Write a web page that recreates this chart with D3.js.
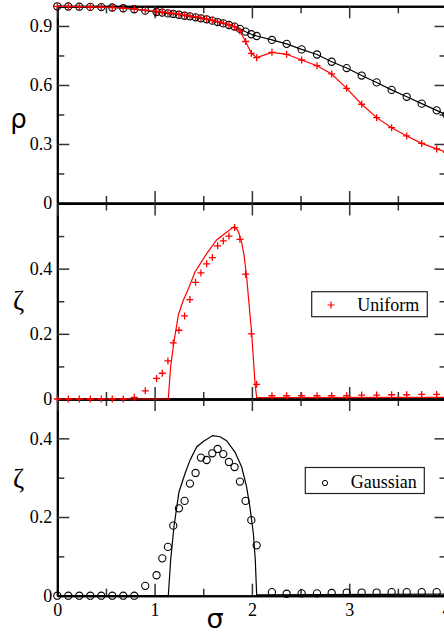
<!DOCTYPE html>
<html>
<head>
<meta charset="utf-8">
<script src="https://cdn.jsdelivr.net/npm/d3@7"></script>
<style>
  html, body { margin: 0; padding: 0; background: #fff; }
  svg { display: block; }
  .tick text { font-family: "Liberation Serif", serif; font-size: 18px; fill: #000; }
</style>
</head>
<body>
<svg id="chart" width="444" height="633"></svg>
<script>
// ---------------- data ----------------
const sigma = [0, 0.113, 0.226, 0.339, 0.452, 0.565, 0.678, 0.791, 0.904,
  1.020, 1.079, 1.137, 1.192, 1.250, 1.308, 1.363, 1.421, 1.476, 1.535, 1.593,
  1.648, 1.706, 1.764, 1.822, 1.877, 1.935, 1.994, 2.049,
  2.206, 2.357, 2.511, 2.669, 2.820, 2.974, 3.128, 3.282, 3.436, 3.591, 3.745, 3.899, 4.0];

const rhoGaussian = [1.000, 0.999, 0.998, 0.997, 0.996, 0.994, 0.990, 0.985, 0.978,
  0.971, 0.968, 0.964, 0.961, 0.957, 0.952, 0.949, 0.944, 0.939, 0.934, 0.927,
  0.920, 0.913, 0.905, 0.897, 0.885, 0.871, 0.858, 0.849,
  0.829, 0.809, 0.781, 0.755, 0.718, 0.686, 0.648, 0.613, 0.575, 0.540, 0.505, 0.471, 0.448];

const rhoUniform = [1.000, 0.999, 0.998, 0.997, 0.996, 0.994, 0.991, 0.987, 0.980,
  0.974, 0.971, 0.968, 0.964, 0.960, 0.955, 0.951, 0.946, 0.941, 0.936, 0.929,
  0.922, 0.914, 0.906, 0.896, 0.875, 0.821, 0.761, 0.739,
  0.766, 0.756, 0.727, 0.698, 0.656, 0.583, 0.502, 0.434, 0.383, 0.341, 0.303, 0.275, 0.258];

const zetaUniform = [0, 0, 0, 0, 0, 0, 0, 0.005, 0.025,
  0.063, 0.079, 0.117, 0.172, 0.211, 0.255, 0.305, 0.358, 0.387, 0.415, 0.434,
  0.470, 0.485, 0.500, 0.526, 0.490, 0.383, 0.200, 0.045,
  0.010, 0.010, 0.010, 0.010, 0.010, 0.010, 0.012, 0.012, 0.013, 0.013, 0.014, 0.014];

const zetaGaussian = [0, 0, 0, 0, 0, 0, 0, 0, 0.025,
  0.052, 0.095, 0.124, 0.178, 0.222, 0.241, 0.285, 0.312, 0.351, 0.345, 0.362,
  0.373, 0.360, 0.340, 0.327, 0.290, 0.241, 0.192, 0.128,
  0.009, 0.005, 0.006, 0.006, 0.007, 0.008, 0.008, 0.008, 0.009, 0.009, 0.009, 0.009];

// theory curves (sigma, zeta)
const uniformCurveSigma = [0, 1.141, 1.165, 1.199, 1.244, 1.295, 1.350, 1.415, 1.480, 1.535,
  1.638, 1.740, 1.820, 1.861, 1.895, 1.920, 1.946, 1.998, 2.032, 2.049, 4.0];
const uniformCurveZeta = [0, 0, 0.100, 0.175, 0.258, 0.303, 0.340, 0.390, 0.420, 0.446,
  0.488, 0.512, 0.530, 0.514, 0.480, 0.440, 0.374, 0.201, 0.048, 0.004, 0.005];

const gaussCurveSigma = [0, 1.141, 1.165, 1.199, 1.250, 1.312, 1.363, 1.432, 1.500, 1.597,
  1.672, 1.740, 1.826, 1.895, 1.946, 1.980, 2.015, 2.035, 2.049, 4.0];
const gaussCurveZeta = [0, 0, 0.090, 0.176, 0.263, 0.310, 0.344, 0.378, 0.392, 0.407,
  0.404, 0.394, 0.365, 0.327, 0.276, 0.225, 0.158, 0.090, 0.002, 0.004];

const xTicks = [0, 1, 2, 3, 4];
const xMinor = [0.5, 1.5, 2.5, 3.5];
const rhoTicks = [0, 0.3, 0.6, 0.9];
const rhoMinor = [0.15, 0.45, 0.75];
const zeta2Ticks = [0, 0.2, 0.4];
const zeta2Minor = [0.1, 0.3, 0.5];
const zeta3Ticks = [0, 0.2, 0.4];
const zeta3Minor = [0.1, 0.3];

// ---------------- layout ----------------
const svg = d3.select("#chart");
svg.append("rect").attr("width", 444).attr("height", 633).attr("fill", "#fff");

const xL = 57.3, xR = 446.5;
const x = d3.scaleLinear().domain([0, 4]).range([xL, xR]);

const panels = [
  { y: d3.scaleLinear().domain([0, 1]).range([203, 6.3]), major: rhoTicks, minor: rhoMinor,
    fmt: d => d === 0 ? "0" : d3.format(".1f")(d), label: "ρ", labelFont: "DejaVu Sans", labelY: 128, xLabels: false },
  { y: d3.scaleLinear().domain([0, 0.6]).range([399, 203.5]), major: zeta2Ticks, minor: zeta2Minor,
    fmt: d => d === 0 ? "0" : d3.format(".1f")(d), label: "ζ", labelFont: "Liberation Serif", labelY: 310, xLabels: false },
  { y: d3.scaleLinear().domain([0, 0.5]).range([595.7, 399]), major: zeta3Ticks, minor: zeta3Minor,
    fmt: d => d === 0 ? "0" : d3.format(".1f")(d), label: "ζ", labelFont: "Liberation Serif", labelY: 488, xLabels: true }
];

const MAJ = 12, MIN = 7;
function styleAxis(g) {
  g.select(".domain").attr("stroke", "#000").attr("stroke-width", 2);
  g.selectAll(".tick line").attr("stroke", "#333").attr("stroke-width", 1.5);
}

panels.forEach(p => {
  const yTop = p.y.range()[1], yBot = p.y.range()[0];
  // left
  svg.append("g").attr("transform", `translate(${xL},0)`)
    .call(d3.axisLeft(p.y).tickValues(p.minor).tickSizeInner(-MIN).tickSizeOuter(0).tickFormat(""))
    .call(styleAxis);
  svg.append("g").attr("transform", `translate(${xL},0)`)
    .call(d3.axisLeft(p.y).tickValues(p.major).tickSizeInner(-MAJ).tickSizeOuter(0).tickPadding(5).tickFormat(p.fmt))
    .call(styleAxis);
  // right
  svg.append("g").attr("transform", `translate(${xR},0)`)
    .call(d3.axisRight(p.y).tickValues(p.minor).tickSizeInner(-MIN).tickSizeOuter(0).tickFormat(""))
    .call(styleAxis);
  svg.append("g").attr("transform", `translate(${xR},0)`)
    .call(d3.axisRight(p.y).tickValues(p.major).tickSizeInner(-MAJ).tickSizeOuter(0).tickFormat(""))
    .call(styleAxis);
  // top
  svg.append("g").attr("transform", `translate(0,${yTop})`)
    .call(d3.axisTop(x).tickValues(xMinor).tickSizeInner(-MIN).tickSizeOuter(0).tickFormat(""))
    .call(styleAxis);
  svg.append("g").attr("transform", `translate(0,${yTop})`)
    .call(d3.axisTop(x).tickValues(xTicks).tickSizeInner(-MAJ).tickSizeOuter(0).tickFormat(""))
    .call(styleAxis);
  // bottom
  svg.append("g").attr("transform", `translate(0,${yBot})`)
    .call(d3.axisBottom(x).tickValues(xMinor).tickSizeInner(-MIN).tickSizeOuter(0).tickFormat(""))
    .call(styleAxis);
  const bx = svg.append("g").attr("transform", `translate(0,${yBot})`)
    .call(d3.axisBottom(x).tickValues(xTicks).tickSizeInner(-MAJ).tickSizeOuter(0).tickPadding(8)
      .tickFormat(p.xLabels ? d3.format("d") : ""))
    .call(styleAxis);
  bx.selectAll(".tick line").filter(d => d === 0 || d === 4).attr("stroke", "none");

  // y label
  svg.append("text").attr("x", 18.5).attr("y", p.labelY)
    .attr("text-anchor", "middle")
    .attr("font-family", p.labelFont).attr("font-size", p.label === "ρ" ? 26 : 27)
    .text(p.label);
});

svg.selectAll(".tick text").attr("font-family", "Liberation Serif").attr("font-size", 18);

// x label
svg.append("text").attr("x", 215).attr("y", 628).attr("text-anchor", "middle")
  .attr("font-family", "DejaVu Sans").attr("font-size", 27).text("σ");

// ---------------- data marks ----------------
const plus = "M-3.5,0H3.5M0,-3.5V3.5";
const line = (ys) => d3.line().x(d => x(d[0])).y(d => ys(d[1]));

// Panel 1
const p1 = panels[0].y;
const gData = sigma.map((s, i) => [s, rhoGaussian[i]]);
const uData = sigma.map((s, i) => [s, rhoUniform[i]]);
svg.append("path").datum(gData).attr("d", line(p1)).attr("fill", "none").attr("stroke", "#000").attr("stroke-width", 1.2);
svg.append("g").selectAll("circle").data(gData).join("circle")
  .attr("cx", d => x(d[0])).attr("cy", d => p1(d[1])).attr("r", 3.6)
  .attr("fill", "none").attr("stroke", "#000").attr("stroke-width", 1.1);
svg.append("path").datum(uData).attr("d", line(p1)).attr("fill", "none").attr("stroke", "#f00").attr("stroke-width", 1.2);
svg.append("g").selectAll("path").data(uData).join("path")
  .attr("transform", d => `translate(${x(d[0])},${p1(d[1])})`).attr("d", plus)
  .attr("stroke", "#f00").attr("stroke-width", 1.3);

// Panel 2
const p2 = panels[1].y;
const uCurve = uniformCurveSigma.map((s, i) => [s, uniformCurveZeta[i]]);
svg.append("path").datum(uCurve).attr("d", line(p2)).attr("fill", "none").attr("stroke", "#f00").attr("stroke-width", 1.2);
svg.append("g").selectAll("path").data(zetaUniform.map((v, i) => [sigma[i], v])).join("path")
  .attr("transform", d => `translate(${x(d[0])},${p2(d[1])})`).attr("d", plus)
  .attr("stroke", "#f00").attr("stroke-width", 1.3);

// Panel 3
const p3 = panels[2].y;
const gCurve = gaussCurveSigma.map((s, i) => [s, gaussCurveZeta[i]]);
svg.append("path").datum(gCurve).attr("d", line(p3)).attr("fill", "none").attr("stroke", "#000").attr("stroke-width", 1.2);
svg.append("g").selectAll("circle").data(zetaGaussian.map((v, i) => [sigma[i], v])).join("circle")
  .attr("cx", d => x(d[0])).attr("cy", d => p3(d[1])).attr("r", 3.6)
  .attr("fill", "none").attr("stroke", "#000").attr("stroke-width", 1.1);

// ---------------- legends ----------------
const leg1 = svg.append("g");
leg1.append("rect").attr("x", 311.7).attr("y", 291.7).attr("width", 115.6).attr("height", 25)
  .attr("fill", "#fff").attr("stroke", "#222").attr("stroke-width", 1.2);
leg1.append("path").attr("transform", "translate(331,305)").attr("d", "M-3.5,0H3.5M0,-3.5V3.5")
  .attr("stroke", "#f00").attr("stroke-width", 1.2);
leg1.append("text").attr("x", 357.3).attr("y", 311).attr("font-family", "Liberation Serif")
  .attr("font-size", 18).text("Uniform");

const leg2 = svg.append("g");
leg2.append("rect").attr("x", 305.3).attr("y", 467.5).attr("width", 119).attr("height", 26)
  .attr("fill", "#fff").attr("stroke", "#222").attr("stroke-width", 1.2);
leg2.append("circle").attr("cx", 325).attr("cy", 483).attr("r", 2.6)
  .attr("fill", "none").attr("stroke", "#000").attr("stroke-width", 1);
leg2.append("text").attr("x", 350.7).attr("y", 487.5).attr("font-family", "Liberation Serif")
  .attr("font-size", 18).text("Gaussian");
</script>
</body>
</html>
